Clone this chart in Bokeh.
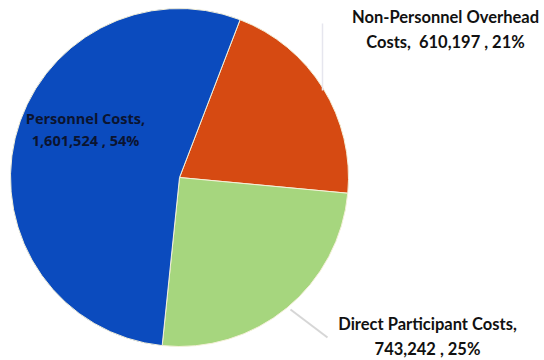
import numpy as np
from bokeh.plotting import figure
from bokeh.models import Range1d
from bokeh.core.properties import value
from bokeh.embed import file_html
from bokeh.resources import INLINE

categories = ["Non-Personnel Overhead Costs", "Direct Participant Costs", "Personnel Costs"]
amounts = [610197, 743242, 1601524]
percents = [21, 25, 54]
colors = ["#D64A12", "#A6D67E", "#0B4BBE"]
label_lines = [
    ["Non-Personnel Overhead", "Costs,\u00a0 610,197 , 21%"],
    ["Direct Participant Costs,", "743,242 , 25%"],
    ["Personnel Costs,", "1,601,524 , 54%"],
]

W, H = 544, 360
p = figure(width=W, height=H, output_backend="svg", toolbar_location=None,
           x_range=Range1d(0, W), y_range=Range1d(0, H), min_border=0,
           outline_line_color=None, background_fill_color="white")
p.axis.visible = False
p.grid.visible = False

cx, cy, r = 179, 360 - 177, 169
start_deg = 69.0
fr = np.array(amounts, dtype=float) / sum(amounts)
cum = np.concatenate([[0], np.cumsum(fr)])
starts = np.radians(start_deg - 360 * cum[:-1])
ends = np.radians(start_deg - 360 * cum[1:])

p.wedge(x=[cx] * 3, y=[cy] * 3, radius=r, start_angle=list(starts), end_angle=list(ends),
        direction="clock", fill_color=colors, line_color="#f4f0d8", line_width=1)

# faint leader lines
p.line([290, 327], [360 - 309, 360 - 337], line_color="#cccccc", line_width=2, line_alpha=0.8)
p.line([322, 322], [360 - 23, 360 - 90], line_color="#e6e6ee", line_width=1.5)

font = value("Lato")
# outside labels
p.text(x=[445, 445], y=[360 - 16, 360 - 41], text=label_lines[0],
       text_font=font, text_font_style="bold", text_font_size="16.5px",
       text_align="center", text_baseline="middle", text_color="#111111")
p.text(x=[427, 427], y=[360 - 323, 360 - 348], text=label_lines[1],
       text_font=font, text_font_style="bold", text_font_size="16.5px",
       text_align="center", text_baseline="middle", text_color="#111111")
# inside label
p.text(x=[85, 85], y=[360 - 118, 360 - 140], text=label_lines[2],
       text_font=value("Open Sans"), text_font_style="bold", text_font_size="14.5px",
       text_align="center", text_baseline="middle", text_color="#0b1430")

open("out.html", "w").write(file_html(p, INLINE))
